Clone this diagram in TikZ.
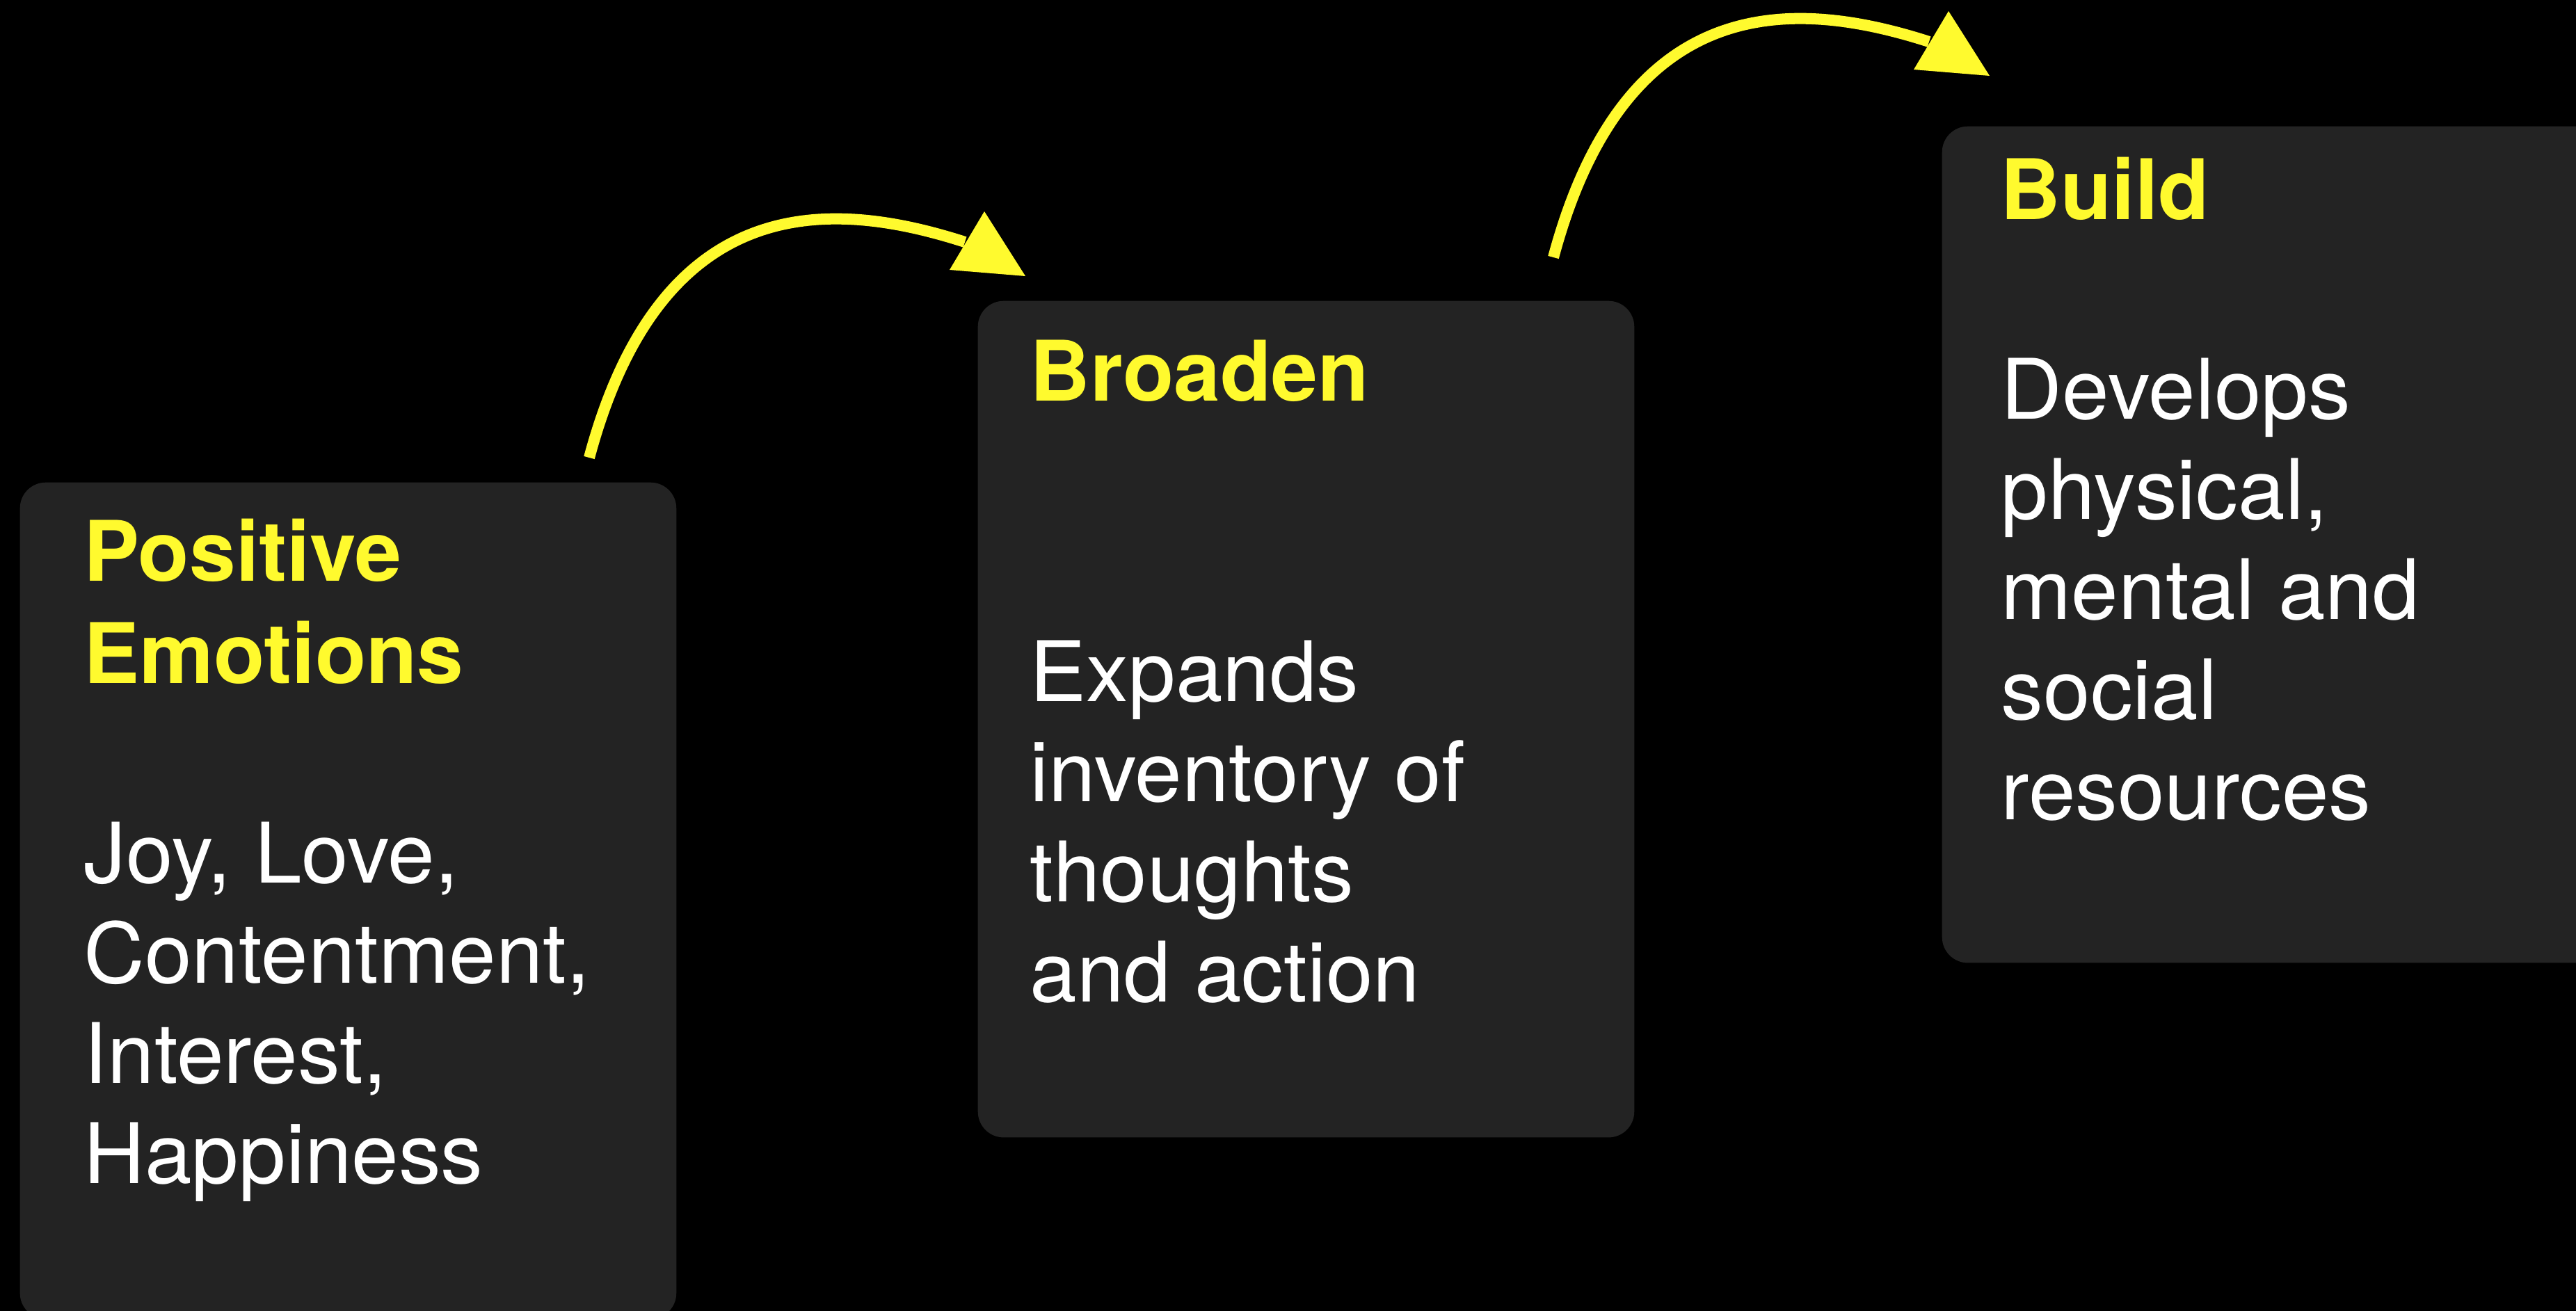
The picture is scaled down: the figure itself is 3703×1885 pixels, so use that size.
\documentclass[tikz,border=0pt]{standalone}
\usepackage{fontspec}
\setmainfont{TeX Gyre Heros}
\newfontfamily\bodyfont[FakeStretch=1.012]{TeX Gyre Heros}
\definecolor{boxgray}{HTML}{232323}
\definecolor{hiyellow}{HTML}{FFFA2E}
\tikzset{
  card/.style={fill=boxgray, draw=none, rounded corners=0.37cm, anchor=north west,
    minimum width=9.43cm, minimum height=12.02cm, inner sep=0pt},
  titletext/.style={anchor=base west, inner sep=0pt, text=hiyellow,
    font=\fontsize{34.14pt}{41.8pt}\selectfont\bfseries},
  bodytext/.style={anchor=base west, inner sep=0pt, text=white,
    font=\bodyfont\fontsize{34.14pt}{40.97pt}\selectfont},
  flow/.style={draw=hiyellow, line width=0.16cm},
  flowhead/.style={fill=hiyellow, draw=none}
}
\newcommand{\tlines}[1]{\parbox[t]{12cm}{\raggedright #1}}
\begin{document}
\begin{tikzpicture}[x=0.01cm, y=-0.01cm]
  \fill[black] (0,0) rectangle (3703,1885);
  \useasboundingbox (0,0) rectangle (3703,1885);

  \node[card] (b1) at (28,693) {};
  \node[card] (b2) at (1405,432) {};
  \node[card, minimum width=9.6cm] (b3) at (2791,181) {};

  \node[titletext] (t1) at (120,835) {\tlines{Positive\\Emotions}};
  \node[bodytext] (d1) at (120,1269) {\tlines{Joy, Love,\\Contentment,\\Interest,\\Happiness}};

  \node[titletext] (t2) at (1480,576) {\tlines{Broaden}};
  \node[bodytext] (d2) at (1480,1008) {\tlines{Expands\\inventory of\\thoughts\\and action}};

  \node[titletext] (t3) at (2875,315) {\tlines{Build}};
  \node[bodytext] (d3) at (2876,602) {\tlines{Develops\\physical,\\mental and\\social\\resources}};

  % arrow 1: Positive Emotions -> Broaden
  \coordinate (s1) at (847,658);
  \coordinate (e1) at (1387,348);
  \coordinate (h1) at (1474,397);
  \draw[flow] (s1) .. controls (950.6,271.6) and (1194.8,286.2) .. (e1);
  \fill[flowhead] (h1) -- (1415,304) -- (1365,388) -- cycle;

  % arrow 2: Broaden -> Build
  \coordinate (s2) at (2233,370);
  \coordinate (e2) at (2773,60);
  \coordinate (h2) at (2860,109);
  \draw[flow] (s2) .. controls (2336.6,-16.4) and (2580.8,-1.8) .. (e2);
  \fill[flowhead] (h2) -- (2801,16) -- (2751,100) -- cycle;
\end{tikzpicture}
\end{document}
